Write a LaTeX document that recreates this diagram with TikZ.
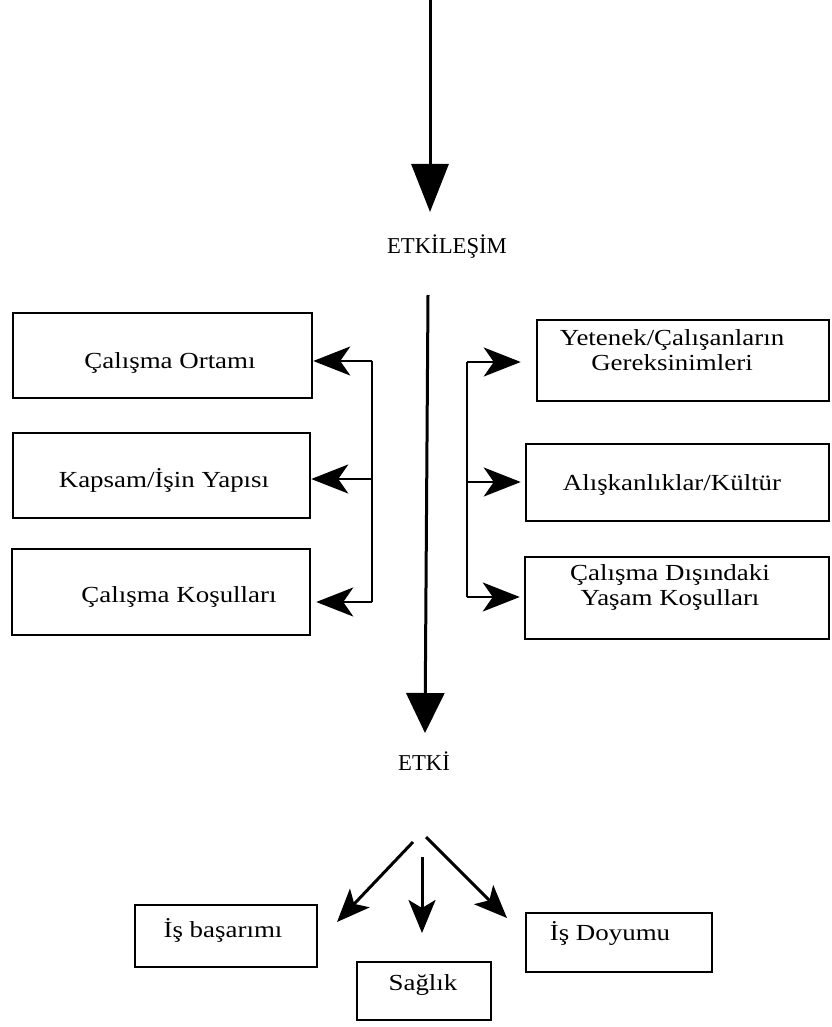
\documentclass[tikz,border=0pt]{standalone}
\usepackage{fontspec}
\setmainfont{Liberation Serif}
\newfontfamily\widefont[FakeStretch=1.17]{Liberation Serif}
\usetikzlibrary{arrows.meta}
\begin{document}
\begin{tikzpicture}[x=1pt,y=-1pt,
  frame/.style={draw, line width=2.5pt, inner sep=0pt},
  lbl/.style={font=\widefont\fontsize{23}{25}\selectfont, inner sep=0pt, anchor=base, align=center},
  head/.style={font=\fontsize{22.7}{25}\selectfont, inner sep=0pt, anchor=base},
  spine/.style={line width=3pt},
  bracket/.style={line width=2.6pt},
  sidearrow/.style={line width=2.6pt, -{Stealth[length=37pt, width=29pt, inset=10pt]}},
  fanarrow/.style={line width=3pt, -{Stealth[length=33pt, width=27pt, inset=8pt]}}]

\useasboundingbox (0,0) rectangle (831,1027);

% headings on the main axis
\node[head] (etk) at (447,253) {ETKİLEŞİM};
\node[head] (etki) at (424,770) {ETKİ};

% main axis
\coordinate (src) at (430,0);
\coordinate (hit) at (430,212);
\draw[spine, -{Triangle[length=48pt, width=37pt]}] (src) -- (hit);
\coordinate (axTop) at (428,295);
\coordinate (axEnd) at (425,733);
\draw[spine, -{Triangle[length=40pt, width=38pt]}] (axTop) -- (axEnd);

% left column
\node[frame, minimum width=299pt, minimum height=85pt] (lb1) at (162.5,355.5) {};
\node[frame, minimum width=297pt, minimum height=85pt] (lb2) at (161.5,475.5) {};
\node[frame, minimum width=298pt, minimum height=86pt] (lb3) at (161,592) {};
\node[lbl] (lt1) at (170,368) {Çalışma Ortamı};
\node[lbl] (lt2) at (164,487) {Kapsam/İşin Yapısı};
\node[lbl] (lt3) at (179,602) {Çalışma Koşulları};

\coordinate (bl1) at (372,361);
\coordinate (bl2) at (372,479);
\coordinate (bl3) at (372,602);
\draw[bracket] (bl1) -- (bl3);
\draw[sidearrow] (bl1) -- (bl1 -| lb1.east);
\draw[sidearrow] (bl2) -- (bl2 -| lb2.east);
\draw[sidearrow, shorten >=5pt] (bl3) -- (bl3 -| lb3.east);

% right column
\node[frame, minimum width=292pt, minimum height=81pt] (rb1) at (683,360.5) {};
\node[frame, minimum width=303pt, minimum height=77pt] (rb2) at (677.5,482.5) {};
\node[frame, minimum width=304pt, minimum height=82pt] (rb3) at (677,598) {};
\node[lbl] (rt1) at (672,370) {Yetenek/Çalışanların\\Gereksinimleri};
\node[lbl] (rt2) at (672,490) {Alışkanlıklar/Kültür};
\node[lbl] (rt3) at (670,605) {Çalışma Dışındaki\\Yaşam Koşulları};

\coordinate (br1) at (467,362);
\coordinate (br2) at (467,482);
\coordinate (br3) at (467,597);
\draw[bracket] (br1) -- (br3);
\draw[sidearrow, shorten >=15pt] (br1) -- (br1 -| rb1.west);
\draw[sidearrow, shorten >=4pt] (br2) -- (br2 -| rb2.west);
\draw[sidearrow, shorten >=4pt] (br3) -- (br3 -| rb3.west);

% outcomes
\node[frame, minimum width=182pt, minimum height=62pt] (ob1) at (226,936) {};
\node[frame, minimum width=134pt, minimum height=58pt] (ob2) at (424,991) {};
\node[frame, minimum width=186pt, minimum height=59pt] (ob3) at (619,942.5) {};
\node[lbl] (ot1) at (223,937) {İş başarımı};
\node[lbl] (ot2) at (423,990) {Sağlık};
\node[lbl] (ot3) at (610,940) {İş Doyumu};

\coordinate (fL) at (413,842);
\coordinate (fM) at (422,857);
\coordinate (fR) at (426,837);
\coordinate (tL) at (337,922);
\coordinate (tM) at (422,933);
\coordinate (tR) at (507,918);
\draw[fanarrow] (fL) -- (tL);
\draw[fanarrow] (fM) -- (tM);
\draw[fanarrow] (fR) -- (tR);
\end{tikzpicture}
\end{document}
